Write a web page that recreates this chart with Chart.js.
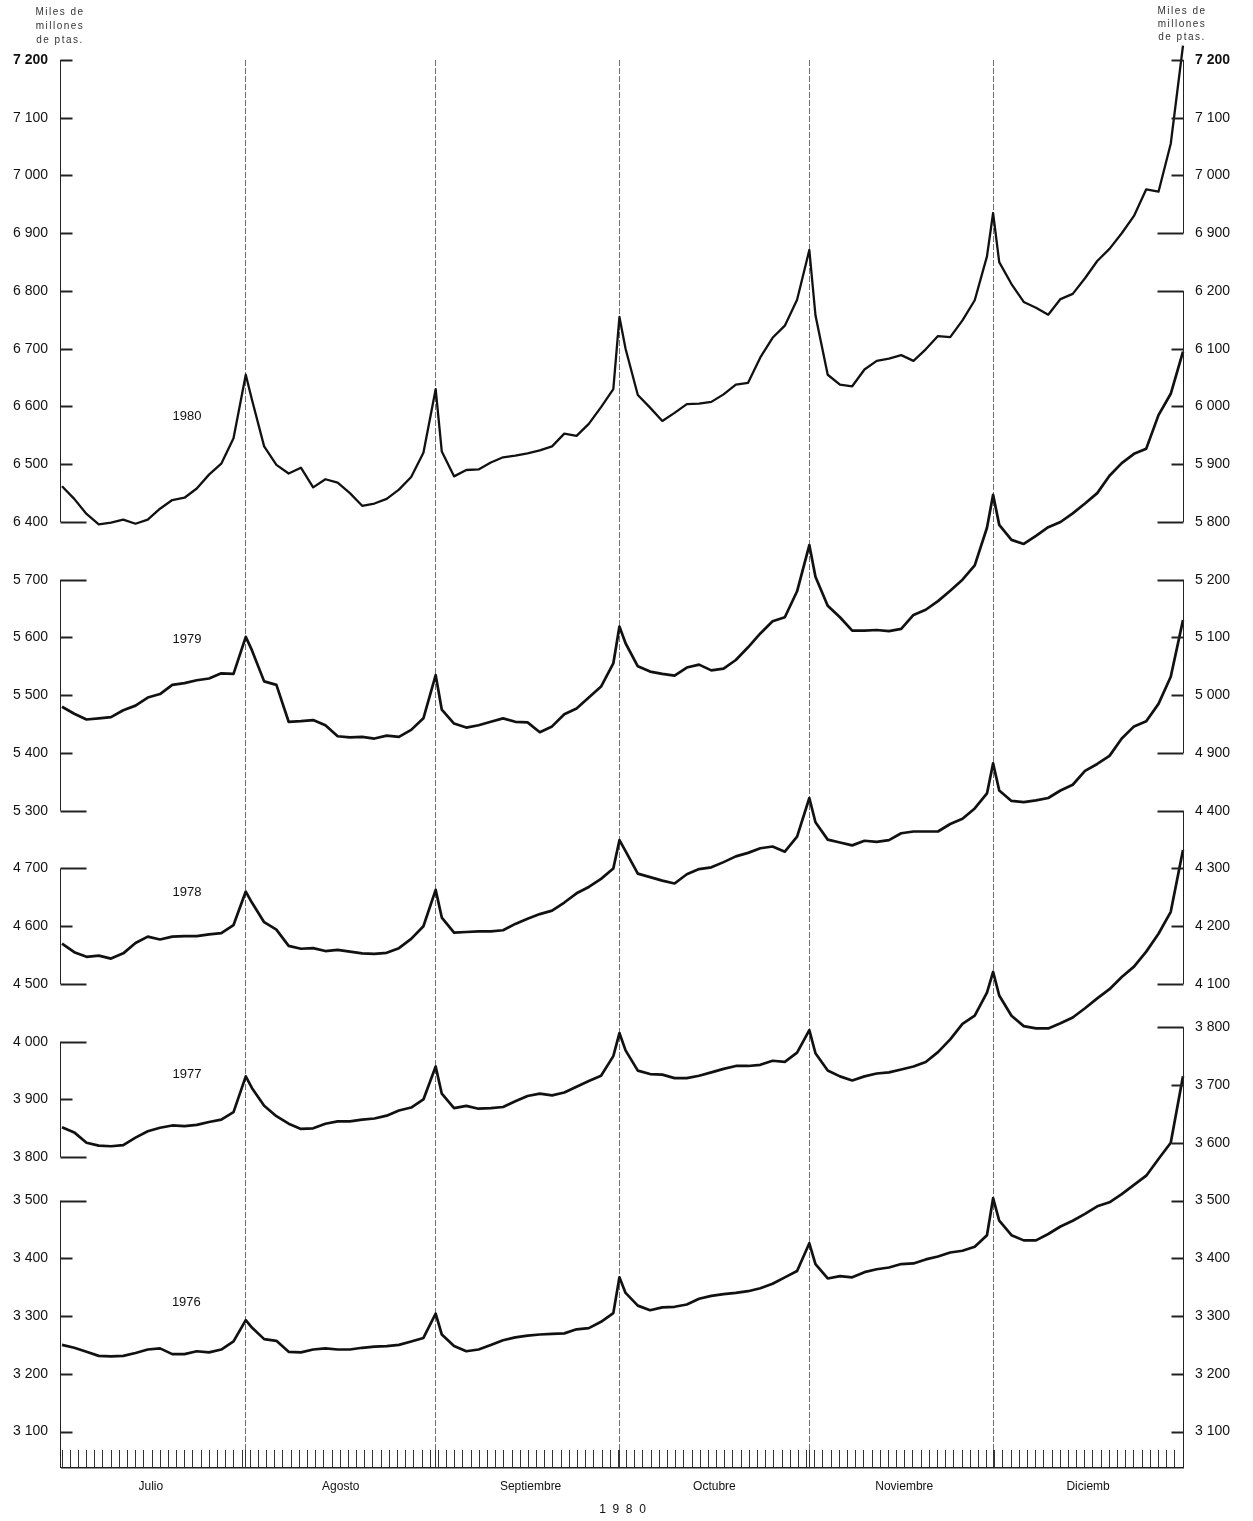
<!DOCTYPE html>
<html>
<head>
<meta charset="utf-8">
<script src="https://cdn.jsdelivr.net/npm/chart.js@4.4.0/dist/chart.umd.min.js"></script>
<style>
  html, body { margin: 0; padding: 0; background: #fff; }
</style>
</head>
<body>
<canvas id="chart-saldos-diarios" width="1253" height="1521"></canvas>
<script>
// dias contados desde el 1 de julio (0) hasta el 31 de diciembre (183)
const dias = [
  0, 2, 4, 6, 8, 10, 12, 14, 16, 18, 20, 22, 24, 26, 28, 30,
  31, 33, 35, 37, 39, 41, 43, 45, 47, 49, 51, 53, 55, 57, 59, 61,
  62, 64, 66, 68, 70, 72, 74, 76, 78, 80, 82, 84, 86, 88, 90, 91,
  92, 94, 96, 98, 100, 102, 104, 106, 108, 110, 112, 114, 116, 118, 120, 122,
  123, 125, 127, 129, 131, 133, 135, 137, 139, 141, 143, 145, 147, 149, 151, 152,
  153, 155, 157, 159, 161, 163, 165, 167, 169, 171, 173, 175, 177, 179, 181, 183
];
const meses = ["Julio", "Agosto", "Septiembre", "Octubre", "Noviembre", "Diciemb"];
const inicioMes = [0, 31, 62, 92, 123, 153];
const finMes = [30, 61, 91, 122, 152, 183];

const serie1980 = [
  6462, 6440, 6414, 6396, 6399, 6404, 6397, 6404, 6423, 6438, 6442, 6458, 6482, 6501, 6545, 6655,
  6612, 6531, 6499, 6484, 6494, 6460, 6474, 6468, 6450, 6428, 6432, 6440, 6456, 6478, 6520, 6630,
  6522, 6479, 6490, 6491, 6503, 6512, 6515, 6519, 6524, 6531, 6553, 6549, 6570, 6599, 6630, 6755,
  6700, 6620, 6598, 6575, 6589, 6604, 6605, 6608, 6621, 6638, 6641, 6685, 6719, 6740, 6785, 6871,
  6758, 6655, 6638, 6635, 6664, 6679, 6683, 6689, 6679, 6699, 6722, 6720, 6749, 6784, 6860, 6935,
  6850, 6812, 6781, 6771, 6759, 6786, 6795, 6822, 6852, 6873, 6900, 6930, 6976, 6972, 7055, 7225
];
const serie1979 = [
  5480, 5468, 5458, 5460, 5462, 5474, 5482, 5496, 5502, 5518, 5521, 5526, 5529, 5538, 5537, 5601,
  5578, 5524, 5518, 5454, 5455, 5457, 5448, 5429, 5427, 5428, 5425, 5430, 5428, 5440, 5460, 5535,
  5475, 5451, 5444, 5448, 5454, 5460, 5454, 5453, 5436, 5446, 5467, 5477, 5496, 5515, 5555, 5619,
  5590, 5550, 5541, 5537, 5534, 5548, 5553, 5543, 5546, 5561, 5583, 5607, 5628, 5635, 5680, 5760,
  5705, 5655, 5635, 5612, 5612, 5613, 5611, 5615, 5639, 5648, 5663, 5681, 5700, 5725, 5790, 5847,
  5795, 5769, 5762, 5776, 5791, 5800, 5815, 5832, 5850, 5880, 5902, 5918, 5927, 5985, 6022, 6095
];
const serie1978 = [
  4570, 4555, 4547, 4549, 4544, 4553, 4571, 4582, 4577, 4582, 4583, 4583, 4586, 4588, 4602, 4660,
  4641, 4607, 4594, 4566, 4561, 4562, 4557, 4559, 4556, 4553, 4552, 4554, 4562, 4578, 4600, 4663,
  4615, 4589, 4590, 4591, 4591, 4593, 4604, 4613, 4621, 4627, 4641, 4657, 4668, 4682, 4700, 4749,
  4730, 4691, 4685, 4679, 4674, 4690, 4699, 4702, 4711, 4721, 4727, 4735, 4738, 4729, 4755, 4822,
  4780, 4750, 4745, 4740, 4748, 4746, 4749, 4761, 4764, 4764, 4764, 4777, 4786, 4804, 4830, 4882,
  4835, 4817, 4815, 4818, 4822, 4835, 4845, 4869, 4881, 4895, 4925, 4946, 4955, 4985, 5032, 5130
];
const serie1977 = [
  3852, 3843, 3825, 3820, 3819, 3821, 3834, 3845, 3851, 3855, 3854, 3856, 3861, 3865, 3878, 3940,
  3920, 3889, 3871, 3858, 3849, 3850, 3858, 3862, 3862, 3865, 3867, 3872, 3881, 3886, 3900, 3957,
  3910, 3885, 3889, 3884, 3885, 3887, 3897, 3906, 3910, 3907, 3912, 3922, 3932, 3941, 3975, 4015,
  3985, 3950, 3944, 3943, 3937, 3937, 3941, 3947, 3953, 3958, 3958, 3960, 3967, 3965, 3981, 4020,
  3980, 3950, 3940, 3933, 3940, 3945, 3947, 3952, 3957, 3965, 3982, 4004, 4031, 4045, 4085, 4121,
  4080, 4045, 4027, 4023, 4023, 4032, 4042, 4058, 4075, 4091, 4112, 4130, 4156, 4187, 4225, 4332
];
const serie1976 = [
  3250, 3245, 3238, 3231, 3230, 3231, 3236, 3242, 3244, 3234, 3234, 3239, 3237, 3242, 3256, 3293,
  3280, 3260, 3257, 3238, 3237, 3242, 3244, 3242, 3242, 3245, 3247, 3248, 3250, 3256, 3262, 3304,
  3268, 3248, 3239, 3242, 3250, 3258, 3263, 3266, 3268, 3269, 3270, 3277, 3279, 3290, 3305, 3367,
  3340, 3318, 3310, 3315, 3316, 3320, 3330, 3335, 3338, 3340, 3343, 3348, 3356, 3367, 3378, 3426,
  3390, 3365, 3369, 3367, 3376, 3381, 3384, 3390, 3391, 3398, 3403, 3410, 3413, 3420, 3440, 3504,
  3465, 3440, 3431, 3431, 3442, 3455, 3465, 3477, 3490, 3497, 3511, 3527, 3543, 3572, 3600, 3715
];

const anios = ["1980", "1979", "1978", "1977", "1976"];
const series = [serie1980, serie1979, serie1978, serie1977, serie1976];
// cada año va desplazado sobre la misma escala para apilar las curvas
const desplazamiento = [0, 600, 1100, 1500, 1725];

const marcasIzq = [
  [7200, 7100, 7000, 6900, 6800, 6700, 6600, 6500, 6400],
  [5700, 5600, 5500, 5400, 5300],
  [4700, 4600, 4500],
  [4000, 3900, 3800],
  [3500, 3400, 3300, 3200, 3100]
];
const marcasDer = [
  [7200, 7100, 7000, 6900],
  [6200, 6100, 6000, 5900, 5800],
  [5200, 5100, 5000, 4900],
  [4400, 4300, 4200, 4100],
  [3800, 3700, 3600, 3500, 3400, 3300, 3200, 3100]
];

const fuente = "'Liberation Sans', Arial, sans-serif";
const yMin = 4793;
const yMax = 7200;

function miles(v) {
  return String(v).replace(/\B(?=(\d{3})+(?!\d))/g, " ");
}

function listaMarcas(bandas) {
  const mapa = new Map();
  bandas.forEach((b, i) => {
    b.forEach((v) => mapa.set(v + desplazamiento[i], miles(v)));
  });
  return mapa;
}
const etiquetasIzq = listaMarcas(marcasIzq);
const etiquetasDer = listaMarcas(marcasDer);

// ejes partidos, con marcas hacia dentro
function dibujarEje(ctx, scale, x, dir, bandas, yBase) {
  ctx.save();
  ctx.strokeStyle = "#222";
  bandas.forEach((b, i) => {
    const off = desplazamiento[i];
    const y0 = scale.getPixelForValue(b[0] + off);
    let y1 = scale.getPixelForValue(b[b.length - 1] + off);
    if (i === bandas.length - 1) y1 = yBase;
    ctx.lineWidth = 1;
    ctx.beginPath();
    ctx.moveTo(x, y0);
    ctx.lineTo(x, y1);
    ctx.stroke();
    b.forEach((v, j) => {
      const y = Math.round(scale.getPixelForValue(v + off)) + 0.5;
      const corte = (j === 0 && i > 0) || (j === b.length - 1 && i < bandas.length - 1);
      const largo = corte ? 26 : 12;
      ctx.lineWidth = 2;
      ctx.beginPath();
      ctx.moveTo(x, y);
      ctx.lineTo(x + dir * largo, y);
      ctx.stroke();
    });
  });
  ctx.restore();
}

const ejesPartidos = {
  id: "ejesPartidos",
  afterDraw(chart, args, opts) {
    const ctx = chart.ctx;
    const y = chart.scales.y;
    const x = chart.scales.x;
    const area = chart.chartArea;
    const yBase = chart.scales.xMeses.top;
    dibujarEje(ctx, y, area.left - 1.5, 1, marcasIzq, yBase);
    dibujarEje(ctx, y, area.right + 0.5, -1, marcasDer, yBase);

    ctx.save();
    ctx.fillStyle = "#111";
    ctx.textAlign = "center";
    ctx.textBaseline = "middle";
    ctx.font = "13px " + fuente;
    opts.rotulos.forEach((r, i) => {
      ctx.fillText(anios[i], x.getPixelForValue(r.dia), y.getPixelForValue(r.valor + desplazamiento[i]));
    });
    ctx.font = "10px " + fuente;
    if ("letterSpacing" in ctx) ctx.letterSpacing = "1.5px";
    ctx.fillStyle = "#333";
    const unidad = ["Miles de", "millones", "de ptas."];
    unidad.forEach((t, i) => {
      ctx.fillText(t, 60, 12 + i * 14);
      ctx.fillText(t, 1182, 11 + i * 13);
    });
    ctx.restore();
  }
};

// marcas menudas del eje de tiempo, mas las de fin de mes
const marcasDias = [];
for (let k = 0; k <= 137; k++) marcasDias.push((k * 183) / 137);
finMes.slice(0, 5).forEach((d) => marcasDias.push(d));
marcasDias.sort((a, b) => a - b);

const ctx = document.getElementById("chart-saldos-diarios").getContext("2d");

new Chart(ctx, {
  type: "line",
  plugins: [ejesPartidos],
  data: {
    datasets: series.map((s, i) => ({
      label: anios[i],
      data: s.map((v, k) => ({ x: dias[k], y: v + desplazamiento[i] })),
      borderColor: "#111",
      borderWidth: i === 0 ? 2.3 : 2.7,
      pointRadius: 0,
      tension: 0,
      fill: false,
      clip: false,
      borderJoinStyle: "round",
    })),
  },
  options: {
    responsive: false,
    animation: false,
    layout: { padding: { top: 60, left: 0, right: 0, bottom: 0 } },
    plugins: {
      legend: { display: false },
      tooltip: { enabled: false },
      ejesPartidos: {
        rotulos: [
          { dia: 20.4, valor: 6582 },
          { dia: 20.4, valor: 5596 },
          { dia: 20.4, valor: 4659 },
          { dia: 20.4, valor: 3944 },
          { dia: 20.3, valor: 3324 },
        ],
      },
    },
    scales: {
      x: {
        type: "linear",
        position: "bottom",
        weight: 0,
        min: 0,
        max: 183,
        afterBuildTicks: (s) => {
          s.ticks = marcasDias.map((v) => ({ value: v }));
        },
        afterFit: (s) => {
          s.height = 18;
        },
        ticks: { display: false },
        grid: {
          drawOnChartArea: true,
          drawTicks: true,
          tickLength: 18,
          lineWidth: 1,
          tickWidth: 1,
          tickColor: "#333",
          color: (c) =>
            c.tick && finMes.slice(0, 5).includes(c.tick.value) ? "#707070" : "rgba(0,0,0,0)",
        },
        border: { display: false, dash: [6, 2] },
      },
      xMeses: {
        type: "linear",
        position: "bottom",
        weight: 1,
        min: 0,
        max: 183,
        afterBuildTicks: (s) => {
          s.ticks = inicioMes.map((d) => ({ value: d + 14.5 }));
        },
        afterFit: (s) => {
          s.height = 53;
        },
        grid: { display: false, drawTicks: false },
        border: { display: true, color: "#222", width: 1.5 },
        ticks: {
          callback: (v, i) => meses[i],
          padding: 11,
          autoSkip: false,
          maxRotation: 0,
          color: "#111",
          font: { family: fuente, size: 12 },
        },
        title: {
          display: true,
          text: "1  9  8  0",
          color: "#111",
          padding: { top: 0, bottom: 4 },
          font: { family: fuente, size: 12 },
        },
      },
      y: {
        type: "linear",
        position: "left",
        min: yMin,
        max: yMax,
        afterBuildTicks: (s) => {
          s.ticks = Array.from(etiquetasIzq.keys()).map((v) => ({ value: v }));
        },
        afterFit: (s) => {
          s.width = 62;
        },
        grid: { display: false, drawTicks: false },
        border: { display: false },
        ticks: {
          autoSkip: false,
          padding: 14,
          color: "#111",
          callback: (v) => etiquetasIzq.get(v),
          font: (c) => ({
            family: fuente,
            size: 14,
            weight: c.tick && c.tick.value === 7200 ? "bold" : "normal",
          }),
        },
      },
      yDer: {
        type: "linear",
        position: "right",
        min: yMin,
        max: yMax,
        afterBuildTicks: (s) => {
          s.ticks = Array.from(etiquetasDer.keys()).map((v) => ({ value: v }));
        },
        afterFit: (s) => {
          s.width = 70;
        },
        grid: { display: false, drawTicks: false },
        border: { display: false },
        ticks: {
          autoSkip: false,
          padding: 12,
          color: "#111",
          callback: (v) => etiquetasDer.get(v),
          font: (c) => ({
            family: fuente,
            size: 14,
            weight: c.tick && c.tick.value === 7200 ? "bold" : "normal",
          }),
        },
      },
    },
  },
});
</script>
</body>
</html>
